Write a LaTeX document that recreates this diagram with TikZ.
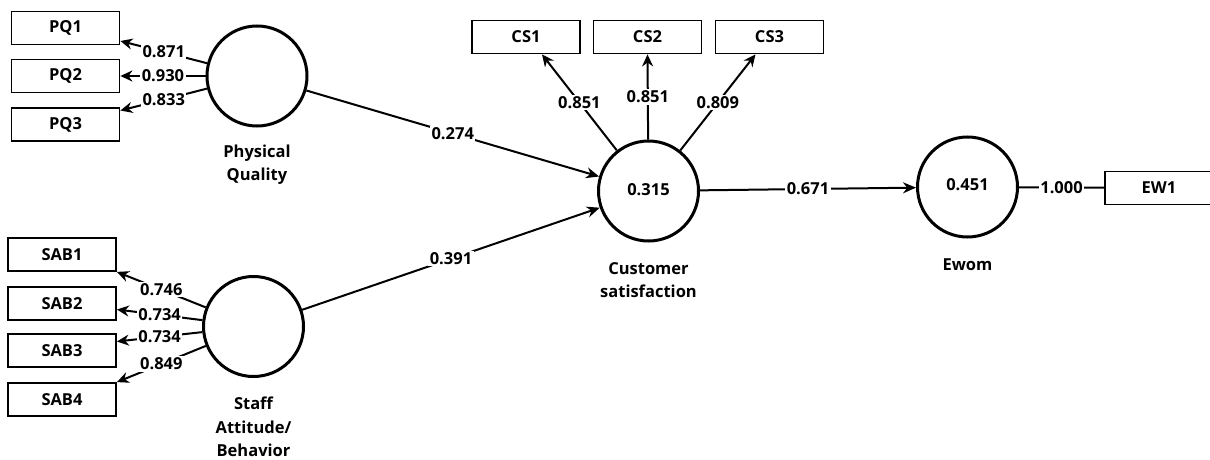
\documentclass[tikz,border=0pt]{standalone}
\usepackage{fontspec}
\setmainfont{Open Sans}
\tikzset{
  latent/.style={draw,circle,line width=3pt,minimum size=100pt,inner sep=0pt,font=\bfseries\fontsize{16.5}{19}\selectfont},
  indicator/.style={draw,rectangle,line width=1.8pt,minimum width=108pt,minimum height=33pt,inner sep=0pt,font=\bfseries\fontsize{16.5}{19}\selectfont},
  caption/.style={align=center,font=\bfseries\fontsize{16.5}{23.5}\selectfont},
  path/.style={line width=2pt,-{Stealth[length=13pt,width=11pt]}},
  loading/.style={line width=2pt,-{Stealth[length=12pt,width=11pt]}},
  plain/.style={line width=2pt},
  value/.style={fill=white,inner sep=1.5pt,font=\bfseries\fontsize{16.5}{19}\selectfont}
}
\usetikzlibrary{arrows.meta}
\begin{document}
\begin{tikzpicture}[x=1pt,y=-1pt]
  \useasboundingbox (0,0) rectangle (1210,460);
  % latent variables
  \node[latent] (pq) at (257,76) {};
  \node[latent] (sab) at (253.5,326.5) {};
  \node[latent] (cs) at (648.5,191) {\raisebox{3pt}{0.315}};
  \node[latent] (ew) at (967.5,187) {\raisebox{4pt}{0.451}};
  \node[caption] (pqlab) at (257,164.5) {Physical\\Quality};
  \node[caption] (sablab) at (253.5,427) {Staff\\Attitude/\\Behavior};
  \node[caption] (cslab) at (648.5,280) {Customer\\satisfaction};
  \node[caption] (ewlab) at (967.5,265) {Ewom};
  % indicators
  \node[indicator] (pq1) at (65.5,28) {PQ1};
  \node[indicator] (pq2) at (65.5,76) {PQ2};
  \node[indicator] (pq3) at (65.5,124.5) {PQ3};
  \node[indicator] (sab1) at (62,254.5) {SAB1};
  \node[indicator] (sab2) at (62,303.5) {SAB2};
  \node[indicator] (sab3) at (62,350.5) {SAB3};
  \node[indicator] (sab4) at (62,399.5) {SAB4};
  \node[indicator] (cs1) at (526,37) {CS1};
  \node[indicator] (cs2) at (647.5,37) {CS2};
  \node[indicator] (cs3) at (769.5,37) {CS3};
  \node[indicator] (ew1) at (1159,188) {EW1};
  % outer loadings
  \draw[loading] (pq) -- ([yshift=-13pt]pq1.east) node[value,pos=.5] {0.871};
  \draw[loading] (pq) -- (pq2.east) node[value,pos=.5] {0.930};
  \draw[loading] (pq) -- ([yshift=14pt]pq3.east) node[value,pos=.5] {0.833};
  \draw[loading] (sab) -- (sab1.south east) node[value,pos=.5] {0.746};
  \draw[loading] (sab) -- ([yshift=-6pt]sab2.east) node[value,pos=.5] {0.734};
  \draw[loading] (sab) -- ([yshift=9pt]sab3.east) node[value,pos=.5] {0.734};
  \draw[loading] (sab) -- (sab4.north east) node[value,pos=.5] {0.849};
  \draw[loading] (cs) -- ([xshift=16pt]cs1.south) node[value,pos=.5] {0.851};
  \draw[loading] (cs) -- (cs2.south) node[value,pos=.5] {0.851};
  \draw[loading] (cs) -- ([xshift=-14pt]cs3.south) node[value,pos=.5] {0.809};
  \draw[plain] (ew) -- (ew1) node[value,pos=.5] {1.000};
  % path coefficients
  \draw[path] (pq) -- (cs) node[value,pos=.5] {0.274};
  \draw[path] (sab) -- (cs) node[value,pos=.5] {0.391};
  \draw[path] (cs) -- (ew) node[value,pos=.5] {0.671};
\end{tikzpicture}
\end{document}
